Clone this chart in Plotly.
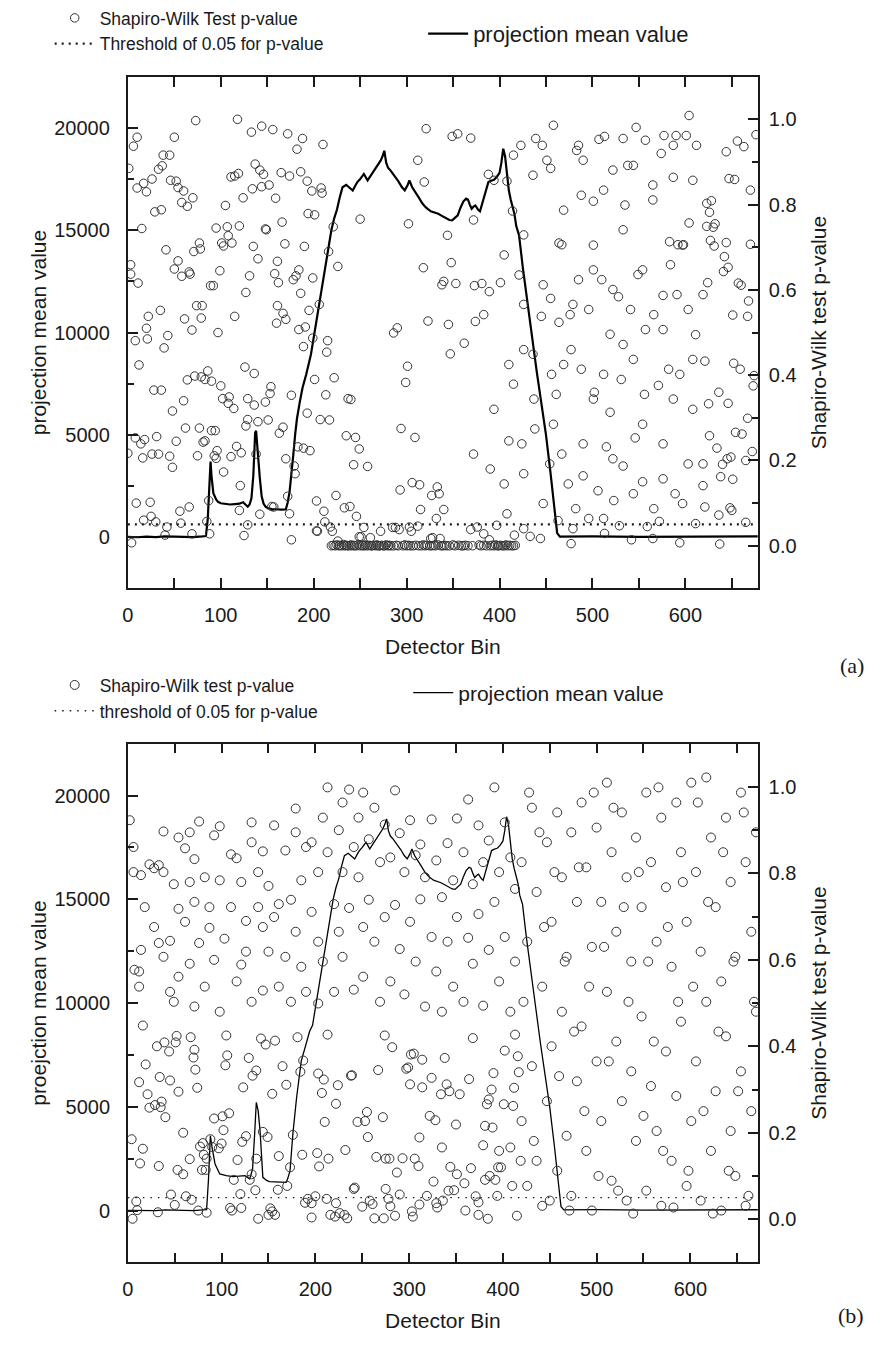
import plotly.graph_objects as go

# ---------------- panel (a) ----------------
xmax_a = 678
line_bins_a = [0, 10, 20, 30, 40, 50, 60, 70, 80, 84, 86, 88, 89, 90, 92, 95, 97, 100, 105, 110,
               115, 120, 124, 127, 129, 131, 133, 135, 136, 137, 138, 139, 140, 142, 144, 146, 148,
               151, 155, 160, 165, 170, 172, 174, 176, 178, 180, 182, 185, 188, 192, 197, 202, 206,
               211, 215, 219, 222, 225, 228, 231, 235, 238, 242, 245, 247, 250, 254, 258, 262, 266,
               269, 272, 274, 276, 278, 280, 283, 287, 291, 295, 298, 301, 303, 306, 309, 313, 317,
               321, 326, 330, 334, 338, 342, 346, 349, 352, 355, 358, 361, 364, 366, 368, 370, 372,
               374, 377, 379, 382, 385, 388, 391, 394, 397, 400, 402, 404, 406, 408, 410, 412, 414,
               416, 418, 421, 425, 430, 435, 440, 445, 450, 455, 458, 460, 462, 465, 480, 500, 550,
               600, 650, 678]
line_vals_a = [20, 0, 30, 10, 40, 20, 30, 10, 40, 60, 900, 3100, 3700, 3000, 2150, 1850, 1730, 1660,
               1630, 1600, 1620, 1640, 1710, 1600, 1490, 1600, 1900, 3000, 4200, 5100, 5200, 4600,
               3800, 2900, 2000, 1650, 1500, 1410, 1380, 1360, 1350, 1360, 1700, 2200, 3000, 4000,
               5000, 5800, 6600, 7300, 7960, 8930, 10300, 11360, 12700, 13950, 15000, 15570, 16000,
               16600, 17100, 17220, 17100, 16940, 17200, 17350, 17500, 17750, 17430, 17700, 18000,
               18150, 18400, 18600, 18880, 18300, 18050, 17900, 17670, 17400, 17100, 16950, 17200,
               17430, 17100, 16860, 16600, 16300, 16100, 15920, 15870, 15800, 15700, 15600, 15500,
               15480, 15600, 15730, 16100, 16400, 16540, 16500, 16250, 16050, 16150, 16210, 16000,
               15920, 16400, 16860, 17350, 17420, 17460, 17600, 17800, 18300, 18980, 18600, 17600,
               16950, 16500, 16100, 15800, 15200, 14760, 13200, 11600, 9800, 8100, 6600, 5000, 3100,
               1800, 1000, 200, 30, 20, 40, 20, 40, 30, 40]

# Shapiro-Wilk p-values per detector bin: (bin, p)
pv_a = [
    (73, 0.997), (118, 1.000), (133, 0.970), (144, 0.984), (156, 0.976), (172, 0.966), (188, 0.955),
    (182, 0.930), (210, 0.941), (10, 0.958), (6, 0.937), (50, 0.958), (1, 0.885), (38, 0.916),
    (45, 0.916), (37, 0.891), (33, 0.883), (26, 0.860), (17, 0.850), (10, 0.839), (20, 0.830),
    (46, 0.857), (52, 0.855), (54, 0.840), (60, 0.832), (70, 0.816), (58, 0.805), (64, 0.796),
    (29, 0.783), (36, 0.788), (15, 0.744), (111, 0.865), (115, 0.867), (119, 0.873), (124, 0.816),
    (105, 0.798), (134, 0.837), (137, 0.895), (142, 0.881), (146, 0.871), (144, 0.842), (152, 0.846),
    (159, 0.815), (165, 0.875), (174, 0.867), (186, 0.877), (193, 0.855), (198, 0.832), (208, 0.839),
    (209, 0.827), (194, 0.779), (201, 0.776), (166, 0.759), (148, 0.743), (149, 0.741), (120, 0.750),
    (107, 0.748), (95, 0.745), (108, 0.727), (101, 0.710), (103, 0.703), (112, 0.710), (77, 0.710),
    (78, 0.696), (71, 0.690), (41, 0.694), (135, 0.702), (169, 0.708), (190, 0.702), (140, 0.673),
    (161, 0.667), (54, 0.668), (50, 0.649), (58, 0.632), (66, 0.642), (67, 0.637), (3, 0.659),
    (3, 0.637), (11, 0.616), (99, 0.645), (89, 0.610), (92, 0.610), (131, 0.633), (158, 0.638),
    (162, 0.617), (178, 0.624), (181, 0.633), (184, 0.647), (199, 0.628), (186, 0.592), (127, 0.594),
    (74, 0.563), (80, 0.563), (35, 0.552), (22, 0.538), (61, 0.532), (79, 0.534), (115, 0.538),
    (161, 0.563), (167, 0.545), (170, 0.531), (160, 0.522), (195, 0.552), (206, 0.566), (20, 0.510),
    (21, 0.485), (8, 0.481), (43, 0.493), (39, 0.464), (69, 0.506), (97, 0.500), (184, 0.507),
    (191, 0.513), (199, 0.487), (189, 0.467), (215, 0.481), (214, 0.454), (221, 0.748), (216, 0.690),
    (226, 0.655),
    (250, 0.766), (302, 0.755), (312, 0.904), (319, 0.853), (321, 0.978), (349, 0.960), (355, 0.966),
    (388, 0.871), (344, 0.728), (348, 0.664), (318, 0.652), (340, 0.620), (338, 0.612), (353, 0.615),
    (373, 0.610), (381, 0.615), (323, 0.527), (345, 0.519), (374, 0.526), (286, 0.499), (290, 0.511),
    (362, 0.475), (347, 0.450),
    (12, 0.424), (72, 0.398), (79, 0.396), (83, 0.390), (86, 0.410), (90, 0.386), (64, 0.389),
    (100, 0.375), (126, 0.419), (136, 0.404), (154, 0.373), (153, 0.357), (148, 0.337), (129, 0.345),
    (136, 0.330), (102, 0.345), (109, 0.349), (108, 0.334), (114, 0.322), (28, 0.365), (36, 0.365),
    (60, 0.340), (48, 0.316), (176, 0.353), (201, 0.390), (222, 0.394), (213, 0.354), (193, 0.311),
    (207, 0.296), (217, 0.295), (237, 0.345), (240, 0.343), (301, 0.421), (299, 0.383), (294, 0.275),
    (309, 0.254), (235, 0.258), (245, 0.254), (249, 0.227), (243, 0.190), (258, 0.186), (293, 0.131),
    (306, 0.148), (314, 0.143), (333, 0.138), (327, 0.118), (335, 0.122), (315, 0.085), (332, 0.064),
    (340, 0.085), (62, 0.276), (77, 0.276), (90, 0.270), (94, 0.270), (127, 0.281), (140, 0.291),
    (151, 0.295), (129, 0.296), (167, 0.278), (163, 0.264), (8, 0.253), (18, 0.249), (14, 0.239),
    (31, 0.256), (52, 0.245), (0, 0.217), (16, 0.206), (26, 0.215), (33, 0.215), (45, 0.210),
    (48, 0.184), (75, 0.211), (81, 0.243), (83, 0.246), (96, 0.223), (95, 0.205), (93, 0.211),
    (117, 0.233), (122, 0.218), (111, 0.209), (103, 0.173), (121, 0.141), (138, 0.215), (170, 0.204),
    (179, 0.187), (180, 0.169), (183, 0.232), (189, 0.229), (196, 0.223), (9, 0.100), (24, 0.102),
    (17, 0.060), (25, 0.069), (30, 0.056), (42, 0.044), (56, 0.081), (57, 0.053), (66, 0.091),
    (40, 0.025), (69, 0.028), (85, 0.057), (88, 0.028), (87, 0.106), (4, 0.007), (120, 0.083),
    (129, 0.049), (125, 0.024), (142, 0.074), (155, 0.092), (157, 0.091), (172, 0.116), (174, 0.075),
    (176, 0.014), (203, 0.105), (211, 0.081), (224, 0.118), (212, 0.056), (218, 0.044), (204, 0.034),
    (220, 0.034), (233, 0.089), (239, 0.092), (246, 0.069), (254, 0.043), (251, 0.021), (261, 0.019),
    (272, 0.034), (285, 0.043), (288, 0.043), (292, 0.038), (303, 0.044), (305, 0.034), (312, 0.046),
    (326, 0.017), (336, 0.017),
    (226, 0.011), (249, 0.021), (328, 0.019), (389, 0.014), (416, 0.025), (433, 0.022), (397, 0.048),
    (369, 0.038), (376, 0.044), (203, 0.035),
    (369, 0.956), (414, 0.785), (408, 0.855), (423, 0.939), (439, 0.955), (446, 0.939), (451, 0.904),
    (455, 0.885), (464, 0.710), (467, 0.706), (483, 0.927), (485, 0.939), (488, 0.822), (501, 0.808),
    (507, 0.953), (513, 0.960), (522, 0.881), (533, 0.955), (538, 0.892), (535, 0.799), (547, 0.981),
    (557, 0.951), (565, 0.846), (574, 0.920), (577, 0.962), (587, 0.864), (590, 0.962), (601, 0.962),
    (604, 1.009), (612, 0.939), (583, 0.713), (592, 0.706), (604, 0.757), (598, 0.706), (389, 0.596),
    (401, 0.617), (421, 0.635), (426, 0.566), (445, 0.538), (455, 0.580), (464, 0.524), (476, 0.542),
    (485, 0.624), (496, 0.554), (501, 0.647), (510, 0.624), (519, 0.496), (528, 0.584), (541, 0.554),
    (549, 0.636), (557, 0.507), (566, 0.542), (576, 0.587), (584, 0.659), (591, 0.589), (603, 0.554),
    (611, 0.495), (410, 0.425), (426, 0.460), (437, 0.344), (456, 0.402), (461, 0.355), (477, 0.460),
    (488, 0.414), (502, 0.360), (512, 0.402), (519, 0.313), (531, 0.390), (544, 0.437), (556, 0.355),
    (571, 0.376), (582, 0.414), (594, 0.402), (608, 0.320), (390, 0.180), (410, 0.246), (424, 0.239),
    (438, 0.274), (454, 0.192), (467, 0.215), (474, 0.145), (482, 0.087), (490, 0.164), (506, 0.129),
    (515, 0.232), (523, 0.106), (533, 0.187), (546, 0.253), (554, 0.150), (566, 0.087), (576, 0.157),
    (589, 0.122), (603, 0.192), (611, 0.052), (408, 0.075), (426, 0.040), (444, 0.017), (463, 0.059),
    (477, 0.005), (496, 0.064), (513, 0.029), (529, 0.047), (542, 0.014), (559, 0.045), (572, 0.057),
    (594, 0.007),
    (372, 0.764), (372, 0.215), (383, 0.542), (383, 0.028), (394, 0.857), (394, 0.320), (405, 0.682),
    (405, 0.145), (415, 0.916), (415, 0.379), (426, 0.729), (426, 0.169), (436, 0.869), (436, 0.449),
    (447, 0.612), (447, 0.099), (458, 0.986), (458, 0.285), (469, 0.787), (469, 0.425), (479, 0.566),
    (479, 0.040), (490, 0.904), (490, 0.239), (501, 0.705), (501, 0.344), (512, 0.834), (512, 0.064),
    (522, 0.601), (522, 0.204), (533, 0.741), (533, 0.472), (544, 0.892), (544, 0.122), (554, 0.647),
    (554, 0.285), (565, 0.811), (565, 0.017), (576, 0.507), (576, 0.239), (587, 0.939), (587, 0.344),
    (597, 0.705), (597, 0.099), (608, 0.857), (608, 0.437), (619, 0.589), (619, 0.192),
    (676, 0.964), (656, 0.949), (663, 0.936), (644, 0.924), (647, 0.861), (653, 0.859), (670, 0.834),
    (623, 0.803), (628, 0.809), (626, 0.782), (632, 0.755), (623, 0.749), (630, 0.747), (627, 0.716),
    (631, 0.703), (644, 0.711), (642, 0.678), (670, 0.707), (646, 0.653), (641, 0.643), (624, 0.617),
    (657, 0.616), (660, 0.611), (668, 0.574), (651, 0.541), (667, 0.538), (621, 0.433), (652, 0.428),
    (659, 0.414), (674, 0.399), (673, 0.375), (636, 0.360), (625, 0.333), (646, 0.334), (667, 0.299),
    (654, 0.266), (661, 0.262), (626, 0.258), (634, 0.229), (640, 0.191), (645, 0.204), (649, 0.208),
    (665, 0.200), (672, 0.221), (638, 0.162), (651, 0.156), (619, 0.141), (621, 0.091), (636, 0.072),
    (648, 0.089), (650, 0.083), (665, 0.055), (637, 0.004),
]

# bins under the object whose p-values sit right at zero
pv_a_zero_bins = [219, 221, 223, 225, 227, 228, 230, 232, 233, 235, 236, 238, 240, 241, 243, 244,
                  246, 248, 250, 252, 253, 255, 256, 258, 260, 262, 263, 265, 267, 268, 270, 271,
                  273, 275, 276, 278, 280, 281, 283, 286, 289, 291, 296, 298, 300, 302, 304, 307,
                  310, 313, 316, 318, 320, 322, 325, 327, 329, 331, 334, 337, 339, 341, 343, 346,
                  350, 352, 356, 359, 361, 363, 366, 371, 378, 380, 383, 386, 390, 392, 394, 396,
                  398, 399, 401, 403, 405, 407, 409, 411, 413, 415, 417]
pv_a_zero_vals = [0.000, 0.001, 0.000, 0.002, 0.000, 0.001, 0.000, 0.003, 0.000, 0.001, 0.000,
                  0.000, 0.002, 0.000, 0.001, 0.000, 0.000, 0.003, 0.000, 0.001, 0.000, 0.000,
                  0.002, 0.000, 0.001, 0.000, 0.000, 0.001, 0.000, 0.002, 0.000, 0.000, 0.001,
                  0.000, 0.000, 0.002, 0.000, 0.001, 0.000, 0.000, 0.001, 0.000, 0.000, 0.002,
                  0.000, 0.001, 0.000, 0.000, 0.001, 0.000, 0.000, 0.002, 0.000, 0.001, 0.000,
                  0.000, 0.001, 0.000, 0.002, 0.000, 0.000, 0.001, 0.000, 0.000, 0.002, 0.000,
                  0.001, 0.000, 0.000, 0.001, 0.000, 0.000, 0.002, 0.000, 0.001, 0.000, 0.000,
                  0.001, 0.000, 0.002, 0.000, 0.000, 0.001, 0.000, 0.000, 0.002, 0.000, 0.001,
                  0.000, 0.000, 0.001]

# ---------------- panel (b) ----------------
xmax_b = 672
line_bins_b = [0, 10, 20, 30, 40, 50, 60, 70, 80, 84, 86, 88, 90, 93, 98, 105, 112, 118, 125,
               130, 133, 135, 137, 139, 141, 144, 148, 151, 160, 169, 171, 173, 176, 180, 185,
               190, 194] + line_bins_a[line_bins_a.index(197):]
line_vals_b = [10, 0, 20, 0, 30, 10, 20, 0, 30, 40, 1500, 3600, 3000, 2245, 1764, 1680, 1635,
               1650, 1683, 1524, 2000, 3500, 5207, 4800, 3846, 1601, 1450, 1394, 1370, 1361,
               1600, 1923, 3687, 5447, 7212, 8000, 8654] + line_vals_a[line_bins_a.index(197):]

pv_b = [
    (5, 0.001), (9, 0.041), (10, 0.021), (4, 0.185), (13, 0.129), (16, 0.163), (21, 0.289),
    (23, 0.258), (29, 0.264), (35, 0.259), (36, 0.272), (40, 0.236), (33, 0.123), (32, 0.016),
    (46, 0.057), (50, 0.033), (53, 0.114), (59, 0.104), (59, 0.200), (66, 0.139), (62, 0.053),
    (68, 0.045), (12, 0.317), (19, 0.358), (34, 0.329), (45, 0.321), (54, 0.295), (74, 0.304),
    (72, 0.346), (70, 0.374), (71, 0.392), (31, 0.400), (39, 0.409), (44, 0.388), (51, 0.409),
    (52, 0.424), (67, 0.421), (105, 0.425), (106, 0.379), (104, 0.356), (77, 0.168), (80, 0.176),
    (90, 0.167), (88, 0.185), (97, 0.164), (100, 0.175), (102, 0.206), (92, 0.233), (101, 0.238),
    (108, 0.245), (81, 0.149), (84, 0.140), (79, 0.114), (83, 0.114), (75, 0.020), (84, 0.015),
    (109, 0.026), (111, 0.020), (121, 0.026), (113, 0.091), (117, 0.137), (120, 0.058),
    (122, 0.179), (126, 0.192), (130, 0.091), (132, 0.104), (136, 0.067), (137, 0.140),
    (139, 0.001), (123, 0.305), (129, 0.373), (133, 0.332), (137, 0.344), (142, 0.418),
    (147, 0.404), (157, 0.413), (144, 0.202), (149, 0.190), (154, 0.290), (161, 0.146),
    (160, 0.068), (152, 0.025), (154, 0.018), (157, 0.010), (150, 0.010), (165, 0.354),
    (169, 0.311), (181, 0.421), (170, 0.077), (173, 0.120), (176, 0.195), (184, 0.341),
    (187, 0.367), (186, 0.149), (189, 0.038), (192, 0.047), (196, 0.037), (196, 0.004),
    (200, 0.053), (202, 0.153), (204, 0.122), (203, 0.337), (209, 0.323), (207, 0.292),
    (210, 0.225), (212, 0.047), (214, 0.140), (213, 0.427), (216, 0.010), (221, 0.006),
    (222, 0.037), (222, 0.267), (224, 0.310), (226, 0.014), (231, 0.010), (234, 0.002),
    (232, 0.160), (238, 0.332), (239, 0.333), (241, 0.070), (242, 0.073), (245, 0.225),
    (250, 0.029), (253, 0.227), (255, 0.248), (256, 0.190), (258, 0.043), (261, 0.035),
    (263, 0.002), (267, 0.345), (265, 0.144), (272, 0.236), (273, 0.002), (274, 0.425),
    (275, 0.070), (275, 0.140), (279, 0.140), (278, 0.047), (280, 0.030), (282, 0.398),
    (285, 0.008), (287, 0.108), (290, 0.057), (293, 0.141), (297, 0.348), (299, 0.351),
    (301, 0.312), (302, 0.381), (305, 0.383), (303, 0.018), (304, 0.006), (306, 0.140),
    (310, 0.123), (311, 0.189), (311, 0.034), (314, 0.369), (314, 0.305), (319, 0.054),
    (322, 0.239), (324, 0.327), (326, 0.087), (328, 0.229), (329, 0.037), (330, 0.027),
    (335, 0.166), (334, 0.289), (338, 0.373), (340, 0.312), (343, 0.296), (336, 0.043),
    (342, 0.066), (344, 0.121), (348, 0.067), (351, 0.104), (350, 0.219), (354, 0.289),
    (359, 0.083), (360, 0.020), (364, 0.324), (366, 0.118), (368, 0.419), (371, 0.053),
    (374, 0.039), (374, 0.010), (379, 0.171), (381, 0.091), (383, 0.266), (381, 0.216),
    (385, 0.277), (388, 0.300), (389, 0.212), (390, 0.338), (384, 0.001), (386, 0.100),
    (392, 0.091), (394, 0.054), (395, 0.120), (398, 0.120), (396, 0.158), (401, 0.266),
    (402, 0.390), (408, 0.166), (410, 0.077), (411, 0.262), (412, 0.304), (413, 0.427),
    (415, 0.008), (416, 0.377), (417, 0.340), (419, 0.135),
    # upper half, bins 0-420
    (2, 0.923), (6, 0.861), (6, 0.803), (14, 0.796), (14, 0.623), (7, 0.577), (12, 0.573),
    (12, 0.538), (16, 0.448), (18, 0.722), (23, 0.821), (28, 0.812), (28, 0.676), (33, 0.819),
    (33, 0.639), (38, 0.897), (38, 0.803), (38, 0.607), (45, 0.644), (45, 0.526), (49, 0.775),
    (49, 0.503), (54, 0.883), (54, 0.718), (54, 0.561), (61, 0.858), (61, 0.688), (66, 0.895),
    (66, 0.780), (66, 0.591), (71, 0.833), (71, 0.734), (71, 0.492), (76, 0.920), (76, 0.639),
    (82, 0.791), (82, 0.538), (87, 0.722), (87, 0.674), (92, 0.888), (92, 0.600), (98, 0.909),
    (98, 0.784), (98, 0.480), (103, 0.649), (110, 0.844), (110, 0.722), (116, 0.835), (116, 0.550),
    (121, 0.780), (121, 0.589), (126, 0.690), (126, 0.619), (132, 0.918), (132, 0.872),
    (132, 0.503), (139, 0.803), (139, 0.722), (144, 0.851), (144, 0.676), (144, 0.529),
    (150, 0.771), (150, 0.619), (156, 0.911), (156, 0.699), (161, 0.729), (161, 0.538),
    (168, 0.853), (168, 0.607), (174, 0.739), (174, 0.503), (179, 0.950), (179, 0.895),
    (179, 0.665), (185, 0.784), (185, 0.584), (190, 0.861), (190, 0.526), (196, 0.872),
    (196, 0.711), (203, 0.803), (203, 0.642), (203, 0.499), (208, 0.929), (208, 0.596),
    (213, 0.999), (213, 0.849), (220, 0.729), (220, 0.526), (225, 0.900), (225, 0.665),
    (229, 0.964), (229, 0.803), (229, 0.607), (236, 0.994), (236, 0.720), (241, 0.861),
    (241, 0.531), (246, 0.929), (246, 0.791), (251, 0.987), (251, 0.676), (251, 0.561),
    (257, 0.879), (257, 0.739), (263, 0.952), (263, 0.642), (269, 0.826), (269, 0.503),
    (274, 0.913), (274, 0.699), (280, 0.837), (280, 0.550), (285, 0.992), (285, 0.727),
    (290, 0.893), (290, 0.625), (295, 0.803), (295, 0.520), (301, 0.923), (301, 0.688),
    (307, 0.842), (307, 0.596), (312, 0.867), (312, 0.740), (317, 0.791), (317, 0.492),
    (324, 0.925), (324, 0.653), (329, 0.830), (329, 0.573), (335, 0.745), (335, 0.480),
    (341, 0.870), (341, 0.642), (347, 0.784), (347, 0.538), (351, 0.927), (351, 0.699),
    (358, 0.849), (358, 0.503), (363, 0.971), (363, 0.651), (368, 0.775), (368, 0.591),
    (374, 0.911), (374, 0.706), (379, 0.826), (379, 0.494), (385, 0.876), (385, 0.623),
    (391, 0.999), (391, 0.734), (396, 0.803), (396, 0.550), (402, 0.918), (402, 0.653),
    (408, 0.837), (408, 0.480), (413, 0.764), (413, 0.596),
    # bins 420-672
    (420, 0.826), (420, 0.227), (426, 0.642), (426, 0.077), (431, 0.952), (431, 0.354),
    (436, 0.757), (436, 0.135), (442, 0.538), (442, 0.031), (447, 0.872), (447, 0.273),
    (452, 0.688), (452, 0.400), (458, 0.941), (458, 0.112), (463, 0.791), (463, 0.480),
    (468, 0.607), (468, 0.193), (473, 0.895), (473, 0.054), (479, 0.734), (479, 0.319),
    (484, 0.964), (484, 0.446), (489, 0.814), (489, 0.158), (495, 0.630), (495, 0.020),
    (500, 0.906), (500, 0.365), (505, 0.734), (505, 0.227), (511, 1.010), (511, 0.526),
    (516, 0.849), (516, 0.089), (521, 0.665), (521, 0.411), (527, 0.941), (527, 0.273),
    (532, 0.791), (532, 0.043), (537, 0.596), (537, 0.342), (542, 0.883), (542, 0.181),
    (548, 0.722), (548, 0.469), (553, 0.987), (553, 0.066), (558, 0.826), (558, 0.308),
    (564, 0.642), (564, 0.204), (569, 0.929), (569, 0.031), (574, 0.768), (574, 0.388),
    (580, 0.584), (580, 0.135), (585, 0.964), (585, 0.285), (590, 0.849), (590, 0.457),
    (596, 0.688), (596, 0.077), (601, 1.010), (601, 0.227), (606, 0.803), (606, 0.365),
    (611, 0.619), (611, 0.043), (617, 1.022), (617, 0.503), (622, 0.883), (622, 0.158),
    (627, 0.722), (627, 0.296), (633, 0.550), (633, 0.020), (638, 0.929), (638, 0.423),
    (643, 0.780), (643, 0.204), (648, 0.607), (648, 0.100), (654, 0.987), (654, 0.342),
    (659, 0.826), (659, 0.031), (665, 0.665), (665, 0.250), (670, 0.895), (670, 0.480),
    (422, 0.503), (428, 0.987), (433, 0.181), (439, 0.895), (444, 0.676), (450, 0.043),
    (455, 0.803), (460, 0.331), (466, 0.596), (471, 0.020), (476, 0.434), (481, 0.814),
    (487, 0.250), (492, 0.538), (497, 0.987), (502, 0.100), (508, 0.630), (513, 0.365),
    (518, 0.952), (523, 0.066), (529, 0.722), (534, 0.503), (539, 0.013), (545, 0.803),
    (550, 0.239), (555, 0.596), (561, 0.411), (566, 0.999), (571, 0.158), (576, 0.676),
    (582, 0.027), (587, 0.503), (592, 0.780), (598, 0.112), (603, 0.538), (608, 0.964),
    (614, 0.250), (619, 0.734), (624, 0.013), (630, 0.434), (635, 0.849), (641, 0.112),
    (646, 0.596), (651, 0.296), (657, 0.941), (662, 0.054), (668, 0.503),
]

threshold = 0.05

FONT = "Liberation Sans, Arial, sans-serif"
INK = "#1a1a1a"

fig = go.Figure()


def add_panel(fig, xa, ya_left, ya_right, bins, vals, pv_pairs, extra_bins, extra_vals, xmax,
              legends, line_w, dot_w, dot_dash, mk_size, mk_label, thr_label):
    px = [b for b, _ in pv_pairs] + list(extra_bins)
    py = [p for _, p in pv_pairs] + list(extra_vals)
    fig.add_trace(go.Scatter(
        x=px, y=py, mode="markers", name=mk_label, xaxis=xa, yaxis=ya_right,
        marker=dict(symbol="circle-open", size=mk_size, color="#333333", line=dict(width=1)),
        legend=legends[0], legendrank=1))
    fig.add_trace(go.Scatter(
        x=[0, xmax], y=[threshold, threshold], mode="lines", name=thr_label, xaxis=xa,
        yaxis=ya_right, line=dict(color=INK, width=dot_w, dash=dot_dash),
        legend=legends[0], legendrank=2))
    fig.add_trace(go.Scatter(
        x=bins, y=vals, mode="lines", name="projection mean value", xaxis=xa, yaxis=ya_left,
        line=dict(color="#000000", width=line_w), legend=legends[1]))


add_panel(fig, "x", "y", "y2", line_bins_a, line_vals_a, pv_a, pv_a_zero_bins, pv_a_zero_vals,
          xmax_a, ("legend", "legend2"), 2.2, 2.2, "2px,5px", 8.5,
          "Shapiro-Wilk Test p-value", "Threshold of 0.05 for p-value")
add_panel(fig, "x2", "y3", "y4", line_bins_b, line_vals_b, pv_b, [], [],
          xmax_b, ("legend3", "legend4"), 1.3, 1.4, "1.5px,6px", 9,
          "Shapiro-Wilk test p-value", "threshold of 0.05 for p-value")

H = 1355.0
W = 880.0
x_dom = [122.7 / W, 757 / W]
a_dom = [1 - 585 / H, 1 - 71 / H]
b_dom = [1 - 1262 / H, 1 - 741 / H]

tickfont = dict(family=FONT, size=20, color=INK)
titlefont = dict(family=FONT, size=21, color=INK)


def xaxis_cfg(dom, anchor, xmax, lw):
    return dict(domain=dom, anchor=anchor, range=[0, xmax], tick0=0, dtick=100,
                ticks="inside", ticklen=10, tickwidth=lw, tickcolor=INK,
                minor=dict(dtick=50, ticks="inside", ticklen=6, tickwidth=lw, tickcolor=INK),
                showline=True, linewidth=lw, linecolor=INK, mirror="allticks",
                showgrid=False, zeroline=False, tickfont=tickfont, ticklabelstandoff=8,
                tickformat="d",
                title=dict(text="Detector Bin", font=titlefont, standoff=14))


def yleft_cfg(dom, anchor, title, lw):
    return dict(domain=dom, anchor=anchor, range=[-2500, 22500], tick0=0, dtick=5000,
                ticks="inside", ticklen=10, tickwidth=lw, tickcolor=INK,
                minor=dict(dtick=2500, ticks="inside", ticklen=6, tickwidth=lw, tickcolor=INK),
                showline=True, linewidth=lw, linecolor=INK, showgrid=False, zeroline=False,
                tickfont=tickfont, ticklabelstandoff=12, tickformat="d",
                title=dict(text=title, font=titlefont, standoff=2))


def yright_cfg(over, anchor, lw):
    return dict(overlaying=over, anchor=anchor, side="right", range=[-0.1, 1.1], tick0=0,
                dtick=0.2, tickformat=".1f",
                ticks="inside", ticklen=10, tickwidth=lw, tickcolor=INK,
                minor=dict(dtick=0.1, ticks="inside", ticklen=6, tickwidth=lw, tickcolor=INK),
                showline=True, linewidth=lw, linecolor=INK, showgrid=False, zeroline=False,
                tickfont=tickfont, ticklabelstandoff=5,
                title=dict(text="Shapiro-Wilk test p-value", font=titlefont, standoff=16))


leg_common = dict(bgcolor="rgba(0,0,0,0)", borderwidth=0, itemwidth=40,
                  tracegroupgap=0, xanchor="left")

fig.update_layout(
    width=880, height=1355, margin=dict(l=0, r=0, t=0, b=0),
    paper_bgcolor="white", plot_bgcolor="white", showlegend=True,
    xaxis=xaxis_cfg(x_dom, "y", xmax_a, 2),
    yaxis=yleft_cfg(a_dom, "x", "projection mean value", 2),
    yaxis2=yright_cfg("y", "x", 2),
    xaxis2=xaxis_cfg(x_dom, "y3", xmax_b, 1.5),
    yaxis3=yleft_cfg(b_dom, "x2", "proejction mean value", 1.5),
    yaxis4=yright_cfg("y3", "x2", 1.5),
    legend=dict(x=44 / W, y=1 + 6 / H, yanchor="top",
                font=dict(family=FONT, size=17.5, color=INK), **leg_common),
    legend2=dict(x=420 / W, y=1 - 28 / H, yanchor="middle",
                 font=dict(family=FONT, size=22, color=INK), **leg_common),
    legend3=dict(x=44 / W, y=1 - 664 / H, yanchor="top",
                 font=dict(family=FONT, size=17.5, color=INK), **leg_common),
    legend4=dict(x=405 / W, y=1 - 690 / H, yanchor="middle",
                 font=dict(family=FONT, size=21, color=INK), **leg_common),
    annotations=[
        dict(text="(a)", x=866 / W, y=1 - 662 / H, xref="paper", yref="paper",
             showarrow=False, font=dict(family="Liberation Serif, Times New Roman, serif",
                                        size=22, color=INK)),
        dict(text="(b)", x=866 / W, y=1 - 1330 / H, xref="paper", yref="paper",
             showarrow=False, font=dict(family="Liberation Serif, Times New Roman, serif",
                                        size=22, color=INK)),
    ],
)

fig.write_html("out.html")
